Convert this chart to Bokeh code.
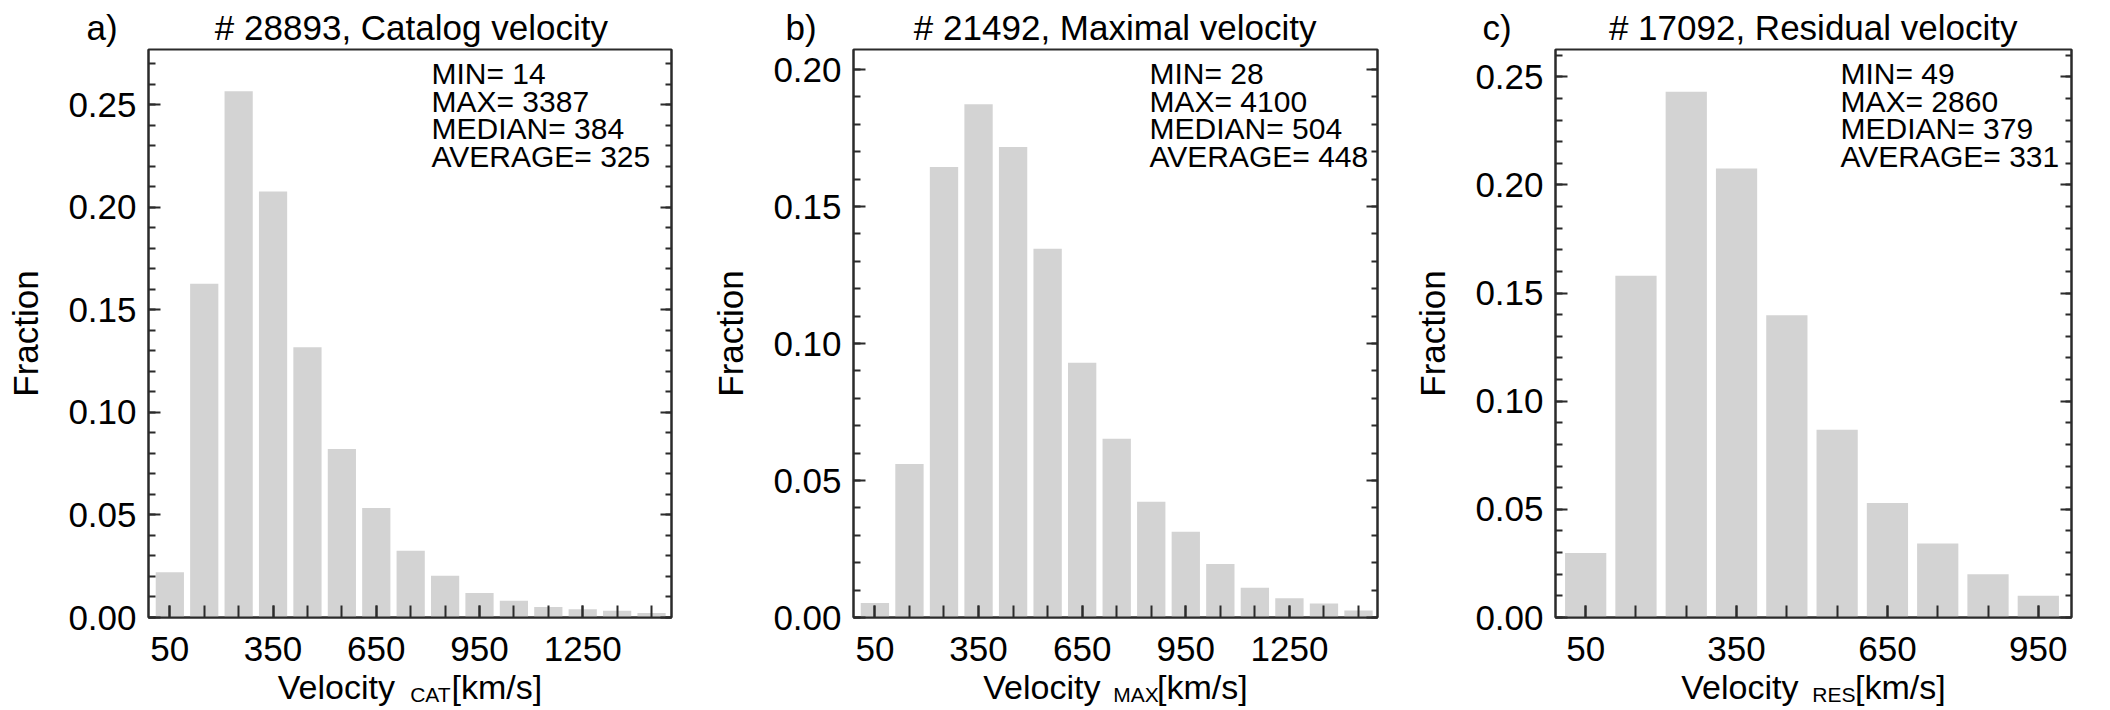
from bokeh.plotting import figure
from bokeh.layouts import row
from bokeh.models import (Label, LinearAxis, FixedTicker, SingleIntervalTicker,
                          PrintfTickFormatter, Range1d)
from bokeh.embed import file_html
from bokeh.resources import INLINE

# ---------------- data ----------------
bins_cat = [50, 150, 250, 350, 450, 550, 650, 750, 850, 950, 1050, 1150, 1250, 1350, 1450]
fraction_cat = [0.0221, 0.1628, 0.2566, 0.2078, 0.1318, 0.0822, 0.0534, 0.0325,
                0.0203, 0.0119, 0.0082, 0.0051, 0.0040, 0.0033, 0.0022]

bins_max = [50, 150, 250, 350, 450, 550, 650, 750, 850, 950, 1050, 1150, 1250, 1350, 1450]
fraction_max = [0.0053, 0.0560, 0.1644, 0.1873, 0.1717, 0.1346, 0.0930, 0.0652,
                0.0422, 0.0313, 0.0195, 0.0109, 0.0070, 0.0051, 0.0026]

bins_res = [50, 150, 250, 350, 450, 550, 650, 750, 850, 950]
fraction_res = [0.0298, 0.1580, 0.2431, 0.2076, 0.1397, 0.0868, 0.0529, 0.0342, 0.0200, 0.0101]

xtick_labels_cat = [50, 350, 650, 950, 1250]
xtick_labels_max = [50, 350, 650, 950, 1250]
xtick_labels_res = [50, 350, 650, 950]

titles = ["# 28893, Catalog velocity", "# 21492, Maximal velocity", "# 17092, Residual velocity"]
letters = ["a)", "b)", "c)"]
subscripts = ["CAT", "MAX", "RES"]
stats_cat = ["MIN= 14", "MAX= 3387", "MEDIAN= 384", "AVERAGE= 325"]
stats_max = ["MIN= 28", "MAX= 4100", "MEDIAN= 504", "AVERAGE= 448"]
stats_res = ["MIN= 49", "MAX= 2860", "MEDIAN= 379", "AVERAGE= 331"]

FONT = "Liberation Sans"
FRAME_H = 568
TOP_BORDER = 49
BOTTOM_BORDER = 93
BAR_COLOR = "#d3d3d3"
LINE_COLOR = "#2b2b2b"
NBSP = "\u00a0"


def lab(p, x, y, text, size, align="left"):
    p.add_layout(Label(x=x, y=y, x_units="screen", y_units="screen", text=text,
                       text_font=FONT, text_font_size=size, text_align=align,
                       text_baseline="alphabetic", text_color="black"))


def make_panel(centers, fracs, xticks, title, letter, stats, sub,
               xr, ymax, frame_w, bl, br, letter_x, stats_x):
    p = figure(frame_width=frame_w, frame_height=FRAME_H,
               x_range=Range1d(*xr), y_range=Range1d(0, ymax),
               output_backend="svg", toolbar_location=None,
               min_border_left=bl, min_border_right=br,
               min_border_top=TOP_BORDER, min_border_bottom=BOTTOM_BORDER)
    p.grid.visible = False
    p.outline_line_color = LINE_COLOR
    p.outline_line_width = 2

    # title with panel letter
    p.title.text = letter + NBSP * 10 + title
    p.title.align = "left"
    p.title.offset = letter_x
    p.title.standoff = 5
    p.title.text_font = FONT
    p.title.text_font_size = "35px"
    p.title.text_font_style = "normal"
    p.title.text_color = "black"

    p.vbar(x=centers, top=fracs, bottom=0, width=82, fill_color=BAR_COLOR, line_color=None)

    # x axis
    xa = p.xaxis[0]
    xa.ticker = FixedTicker(ticks=xticks, minor_ticks=centers)
    xa.major_tick_in = 12
    xa.major_tick_out = 0
    xa.minor_tick_in = 12
    xa.minor_tick_out = 0
    xa.major_tick_line_color = LINE_COLOR
    xa.minor_tick_line_color = LINE_COLOR
    xa.major_tick_line_width = 2
    xa.minor_tick_line_width = 2
    xa.axis_line_color = LINE_COLOR
    xa.axis_line_width = 2
    xa.major_label_text_font = FONT
    xa.major_label_text_font_size = "35px"
    xa.major_label_text_color = "black"
    xa.major_label_standoff = 19
    xa.axis_label = "Velocity" + NBSP * 6 + "[km/s]"
    xa.axis_label_text_font = FONT
    xa.axis_label_text_font_size = "34px"
    xa.axis_label_text_font_style = "normal"
    xa.axis_label_text_color = "black"
    xa.axis_label_standoff = 4

    # subscript of the x label, as a label-only axis below
    sub_axis = LinearAxis(ticker=FixedTicker(ticks=[]), axis_line_color=None,
                          major_tick_line_color=None, minor_tick_line_color=None,
                          major_tick_in=0, major_tick_out=0, minor_tick_in=0, minor_tick_out=0,
                          major_label_text_color=None, major_label_standoff=0,
                          axis_label=NBSP * 7 + sub, axis_label_text_font=FONT,
                          axis_label_text_font_size="21px", axis_label_text_font_style="normal",
                          axis_label_text_color="black", axis_label_standoff=-26)
    p.add_layout(sub_axis, "below")

    # y axis
    ya = p.yaxis[0]
    ya.ticker = SingleIntervalTicker(interval=0.05, num_minor_ticks=5)
    ya.formatter = PrintfTickFormatter(format="%.2f")
    ya.major_tick_in = 12
    ya.major_tick_out = 0
    ya.minor_tick_in = 7
    ya.minor_tick_out = 0
    ya.major_tick_line_color = LINE_COLOR
    ya.minor_tick_line_color = LINE_COLOR
    ya.major_tick_line_width = 2
    ya.minor_tick_line_width = 2
    ya.axis_line_color = LINE_COLOR
    ya.axis_line_width = 2
    ya.major_label_text_font = FONT
    ya.major_label_text_font_size = "35px"
    ya.major_label_text_color = "black"
    ya.major_label_standoff = 12
    ya.axis_label = "Fraction"
    ya.axis_label_text_font = FONT
    ya.axis_label_text_font_size = "35px"
    ya.axis_label_text_font_style = "normal"
    ya.axis_label_text_color = "black"
    ya.axis_label_standoff = 20

    # right mirror axis (ticks only)
    ra = LinearAxis(ticker=SingleIntervalTicker(interval=0.05, num_minor_ticks=5),
                    major_label_text_color=None, major_label_text_font_size="1px",
                    major_label_standoff=0,
                    major_tick_in=11, major_tick_out=0, minor_tick_in=6, minor_tick_out=0,
                    major_tick_line_color=LINE_COLOR, minor_tick_line_color=LINE_COLOR,
                    major_tick_line_width=2, minor_tick_line_width=2,
                    axis_line_color=LINE_COLOR, axis_line_width=2)
    p.add_layout(ra, "right")

    # statistics block (inside the frame)
    for i, s in enumerate(stats):
        lab(p, stats_x, FRAME_H - 24 - i * 27.6, s, "30px")

    return p


pa = make_panel(bins_cat, fraction_cat, xtick_labels_cat, titles[0], letters[0], stats_cat, subscripts[0],
                (-12, 1508), 0.277, 523, 148, 35, -62, 283)
pb = make_panel(bins_max, fraction_max, xtick_labels_max, titles[1], letters[1], stats_max, subscripts[1],
                (-12, 1505), 0.2073, 524, 147, 27, -68, 296)
pc = make_panel(bins_res, fraction_res, xtick_labels_res, titles[2], letters[2], stats_res, subscripts[2],
                (-10, 1016), 0.2626, 516, 151, 39, -73, 285)

layout = row(pa, pb, pc, spacing=0)
open("out.html", "w").write(file_html(layout, INLINE))
